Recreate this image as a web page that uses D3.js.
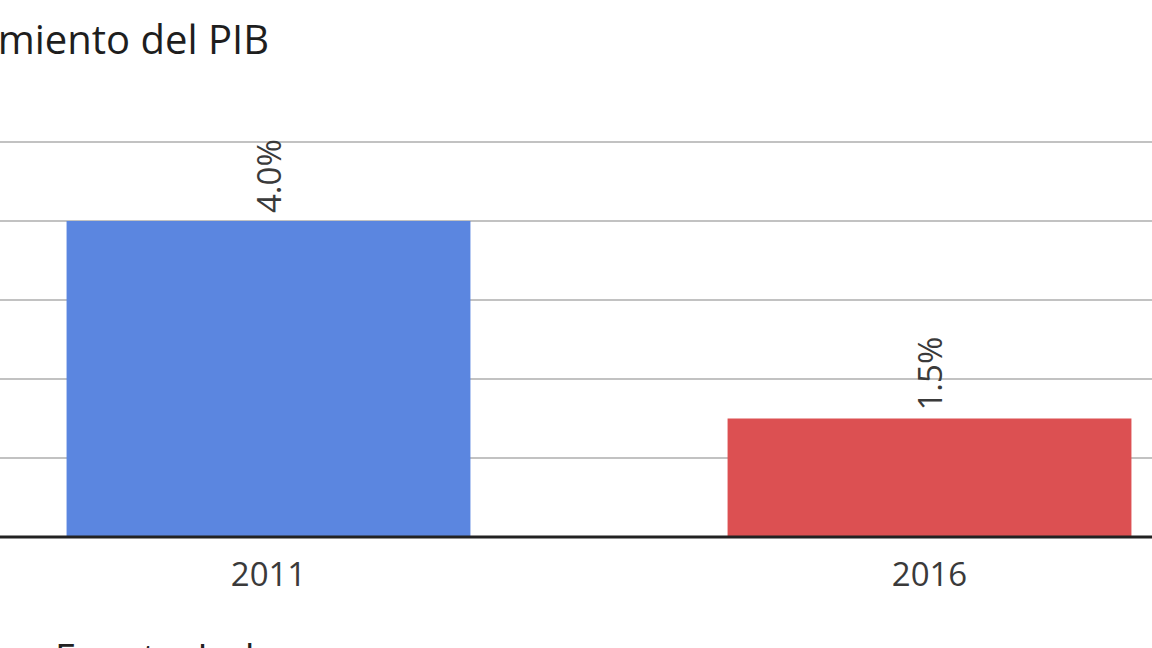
<!DOCTYPE html>
<html>
<head>
<meta charset="utf-8">
<script src="https://cdn.jsdelivr.net/npm/d3@7"></script>
<style>
  html, body { margin: 0; padding: 0; background: #fff; overflow: hidden; }
</style>
</head>
<body>
<div id="chart"></div>
<script>
const years = ['2011', '2016'];
const growth = [4.0, 1.5];
const barColors = ['#5b86e0', '#dc5052'];
const gridTicks = [0, 1, 2, 3, 4, 5];

const width = 1152;
const height = 648;
const baseY = 537;

const svg = d3.select('#chart').append('svg')
    .attr('width', width)
    .attr('height', height)
    .style('font-family', '"Open Sans", sans-serif');

const x = d3.scaleBand()
    .domain(years)
    .range([-62, 1260])
    .paddingInner(0.389)
    .paddingOuter(0.1945);

const y = d3.scaleLinear()
    .domain([0, 5])
    .range([baseY, 142]);

// grid lines
svg.append('g')
  .selectAll('line')
  .data(gridTicks.slice(1))
  .join('line')
    .attr('x1', 0)
    .attr('x2', width)
    .attr('y1', d => y(d))
    .attr('y2', d => y(d))
    .attr('stroke', '#c2c2c2')
    .attr('stroke-width', 2);

svg.append('g')
  .selectAll('rect')
  .data(years)
  .join('rect')
    .attr('x', d => x(d))
    .attr('y', (d, i) => y(growth[i]))
    .attr('width', x.bandwidth())
    .attr('height', (d, i) => baseY - y(growth[i]))
    .attr('fill', (d, i) => barColors[i]);

// baseline
svg.append('line')
    .attr('x1', 0)
    .attr('x2', width)
    .attr('y1', baseY)
    .attr('y2', baseY)
    .attr('stroke', '#222')
    .attr('stroke-width', 3);

// value labels
svg.append('g')
  .selectAll('text')
  .data(years)
  .join('text')
    .attr('transform', (d, i) => `translate(${x(d) + x.bandwidth() / 2 + 12},${y(growth[i]) - 8}) rotate(-90)`)
    .attr('font-size', 33)
    .attr('fill', '#3a3a3a')
    .text((d, i) => growth[i].toFixed(1) + '%');

// x axis
const xAxis = svg.append('g')
    .attr('transform', `translate(0,${baseY})`)
    .call(d3.axisBottom(x).tickSize(0).tickPadding(26));
xAxis.select('.domain').remove();
xAxis.selectAll('text')
    .attr('font-size', 33)
    .attr('font-family', '"Open Sans", sans-serif')
    .attr('fill', '#3a3a3a');

svg.append('text')
    .attr('x', 269)
    .attr('y', 54)
    .attr('text-anchor', 'end')
    .attr('font-size', 40)
    .attr('fill', '#1e1e1e')
    .text('Crecimiento del PIB');

svg.append('text')
    .attr('x', 55)
    .attr('y', 672)
    .attr('font-size', 38)
    .attr('fill', '#222')
    .text('Fuente: Indec');
</script>
</body>
</html>
